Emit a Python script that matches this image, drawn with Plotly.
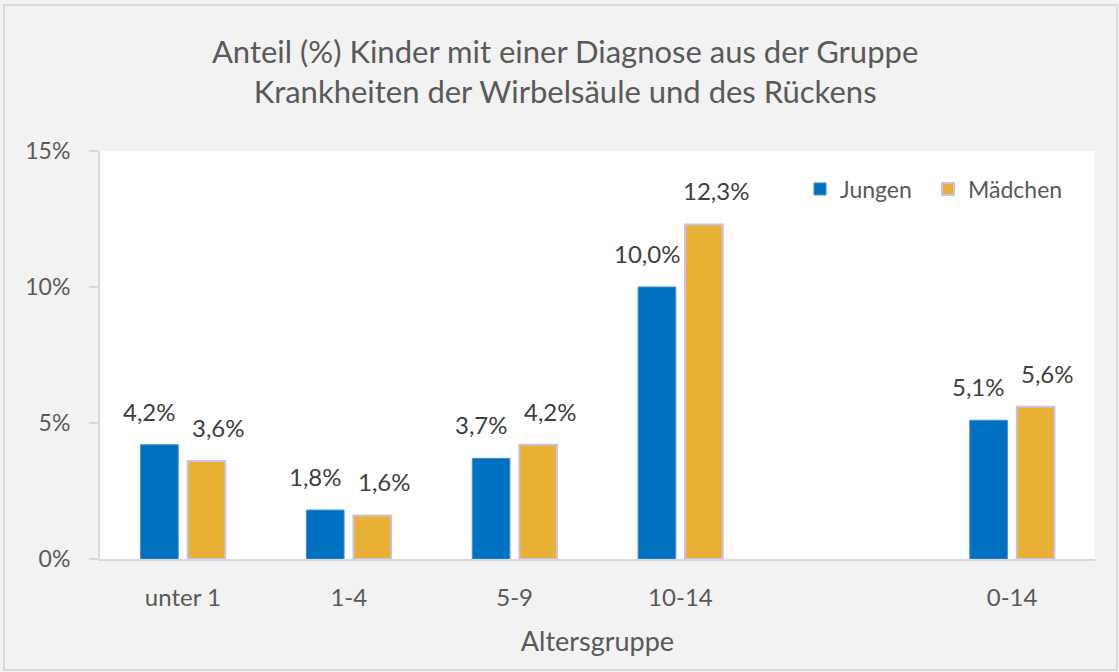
import plotly.graph_objects as go

categories = ["unter 1", "1-4", "5-9", "10-14", " ", "0-14"]
jungen = [4.2, 1.8, 3.7, 10.0, None, 5.1]
maedchen = [3.6, 1.6, 4.2, 12.3, None, 5.6]
y_ticks = [0, 5, 10, 15]

def fmt(v):
    return f"{v:.1f}".replace(".", ",") + "%"

FONT = "Lato, 'Open Sans', sans-serif"
W, H = 1119, 672
ML, MR, MT, MB = 100, 24, 151, 113
plot_w = W - ML - MR
plot_h = H - MT - MB
cat_px = plot_w / len(categories)
bargap = 0.433
half_slot_px = cat_px * (1 - bargap) / 4

fig = go.Figure()
fig.add_trace(go.Bar(
    name="Jungen", x=categories, y=jungen,
    marker=dict(color="#0070c0", line=dict(color="#3f8fd0", width=1)),
    hoverinfo="skip", legend="legend", showlegend=True,
))
fig.add_trace(go.Bar(
    name="Mädchen", x=categories, y=maedchen,
    marker=dict(color="#e8b034", line=dict(color="#ccc1e0", width=2)),
    hoverinfo="skip", legend="legend2", showlegend=True,
))

annotations = []
for series, sign, extra in ((jungen, -1, -10), (maedchen, 1, 12)):
    for c, v in zip(categories, series):
        if v is None:
            continue
        annotations.append(dict(
            x=c, y=v, xref="x", yref="y", text=fmt(v), showarrow=False,
            yanchor="bottom", xanchor="center",
            xshift=sign * half_slot_px + extra, yshift=17,
            font=dict(family=FONT, size=24, color="#404040"),
        ))

legend_style = dict(
    orientation="h", xanchor="left",
    y=(H - MB - 189) / plot_h, yanchor="middle",
    bgcolor="rgba(0,0,0,0)", font=dict(family=FONT, size=23, color="#595959"),
    itemwidth=30, visible=True,
)

fig.update_layout(
    width=W, height=H,
    showlegend=True,
    margin=dict(l=ML, r=MR, t=MT, b=MB),
    paper_bgcolor="#f2f2f2", plot_bgcolor="#ffffff",
    barmode="group", bargap=bargap, bargroupgap=0.2,
    title=dict(
        text="Anteil (%) Kinder mit einer Diagnose aus der Gruppe<br>Krankheiten der Wirbelsäule und des Rückens",
        x=0.505, xanchor="center", xref="container", y=1 - 63 / H, yanchor="middle",
        font=dict(family=FONT, size=31, color="#595959"),
    ),
    font=dict(family=FONT, color="#595959"),
    legend=dict(x=(800 - ML) / plot_w, **legend_style),
    legend2=dict(x=(928 - ML) / plot_w, **legend_style),
    annotations=annotations,
    shapes=[dict(
        type="rect", xref="paper", yref="paper",
        x0=(4 - ML) / plot_w, x1=(W - 2 - ML) / plot_w,
        y0=-(H - 2 - (H - MB)) / plot_h, y1=(H - MB - 5) / plot_h,
        line=dict(color="#d9d9d9", width=2), layer="below",
    )],
)
fig.update_xaxes(
    type="category", range=[-0.5, len(categories) - 0.5],
    showline=True, linecolor="#d9d9d9", linewidth=2,
    ticks="", showgrid=False, ticklabelstandoff=16,
    tickfont=dict(family=FONT, size=24, color="#595959"),
    title=dict(text="Altersgruppe", font=dict(family=FONT, size=27, color="#595959"), standoff=22),
)
fig.update_yaxes(
    range=[0, 15], tickvals=y_ticks, ticktext=[f"{t}%" for t in y_ticks],
    showline=True, linecolor="#d9d9d9", linewidth=2,
    ticks="outside", ticklen=9, tickcolor="#d9d9d9", tickwidth=2,
    showgrid=False, zeroline=False, ticklabelstandoff=14,
    tickfont=dict(family=FONT, size=23, color="#595959"),
)

fig.write_html(
    "out.html",
    config={"displayModeBar": False},
    post_script="document.body.style.margin='0px';document.body.style.overflow='hidden';",
)
